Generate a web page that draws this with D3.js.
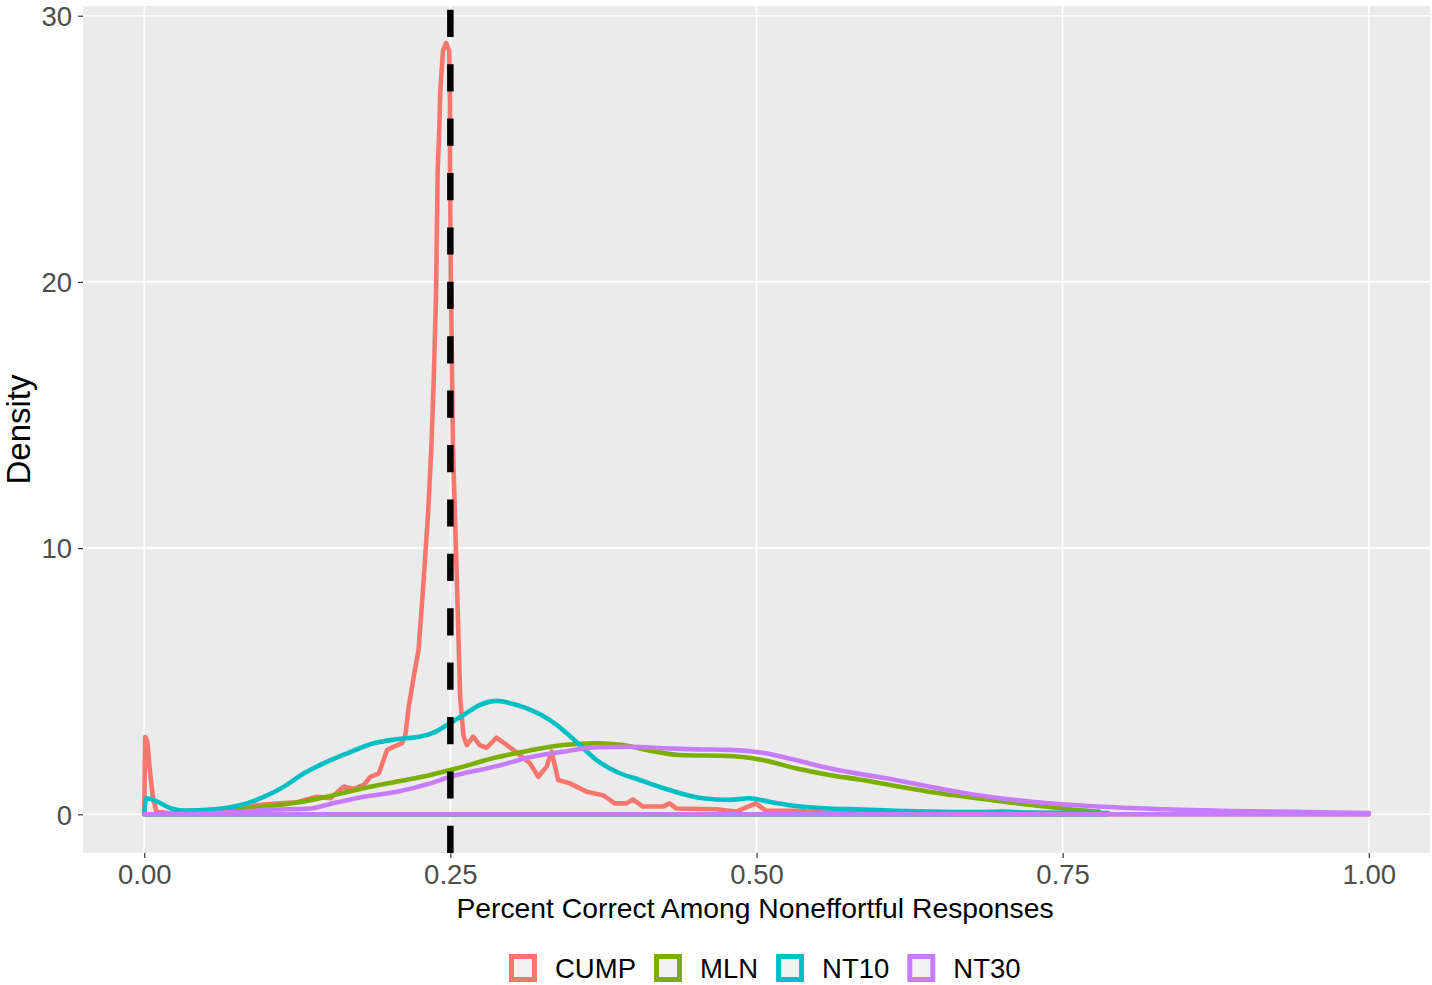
<!DOCTYPE html>
<html>
<head>
<meta charset="utf-8">
<script src="https://cdn.jsdelivr.net/npm/d3@7"></script>
<style>
  html, body { margin: 0; padding: 0; background: #ffffff; }
  svg { display: block; font-family: "Liberation Sans", Arial, sans-serif; }
</style>
</head>
<body>
<svg id="chart" width="1432" height="985"></svg>
<script>
// ---------------- data ----------------
const seriesNames = ["CUMP", "MLN", "NT10", "NT30"];
const seriesColors = ["#F8766D", "#7CAE00", "#00BFC4", "#C77CFF"];

const xTickValues = [0, 0.25, 0.5, 0.75, 1.0];
const xTickLabels = ["0.00", "0.25", "0.50", "0.75", "1.00"];
const yTickValues = [0, 10, 20, 30];
const yTickLabels = ["0", "10", "20", "30"];

const referenceLine = 0.25;

const cump = [[0,0],[0.0008,2.9],[0.0025,2.75],[0.0043,1.8],[0.007,0.66],[0.0098,0.12],[0.02,0.03],[0.05,0.04],[0.075,0.15],[0.0925,0.35],[0.111,0.41],[0.125,0.45],[0.141,0.66],[0.152,0.6],[0.163,1.04],[0.171,0.95],[0.1793,1.1],[0.1848,1.41],[0.1916,1.54],[0.1984,2.42],[0.2038,2.54],[0.2106,2.67],[0.2133,2.98],[0.216,4.04],[0.2201,5.17],[0.2241,6.2],[0.2282,8.8],[0.2318,11.3],[0.2345,13.8],[0.2364,16.3],[0.2383,19.5],[0.2396,24.1],[0.241,25.8],[0.2418,27.2],[0.244,28.7],[0.2465,28.97],[0.249,28.7],[0.2497,26.8],[0.2497,24.3],[0.2503,20.5],[0.2521,13.8],[0.2553,8.8],[0.258,4.4],[0.2607,2.95],[0.2635,2.6],[0.2686,2.92],[0.274,2.6],[0.2797,2.5],[0.2877,2.88],[0.3014,2.42],[0.315,1.92],[0.3218,1.41],[0.3286,1.79],[0.3327,2.35],[0.338,1.29],[0.3476,1.16],[0.3612,0.85],[0.3747,0.72],[0.3842,0.41],[0.3937,0.41],[0.3991,0.56],[0.4073,0.29],[0.4236,0.29],[0.429,0.41],[0.4345,0.22],[0.467,0.19],[0.4833,0.1],[0.4996,0.41],[0.5077,0.13],[0.532,0.13],[0.56,0.05],[0.6,0.02],[0.7,0.0],[1.0,0.0]];

const mln = [[0,0],[0.03,0.02],[0.05,0.05],[0.0727,0.14],[0.098,0.29],[0.1251,0.44],[0.152,0.69],[0.1793,0.98],[0.2065,1.23],[0.2336,1.48],[0.25,1.66],[0.2879,2.14],[0.315,2.4],[0.342,2.6],[0.3693,2.67],[0.391,2.6],[0.41,2.42],[0.4371,2.23],[0.4778,2.19],[0.505,2.04],[0.532,1.73],[0.5593,1.48],[0.5864,1.29],[0.6136,1.06],[0.6407,0.85],[0.6706,0.66],[0.7248,0.35],[0.7682,0.14],[0.78,0.1]];

const nt10 = [[0,0],[0.0016,0.6],[0.011,0.47],[0.022,0.22],[0.0328,0.14],[0.0572,0.19],[0.079,0.35],[0.098,0.66],[0.1142,1.04],[0.1305,1.54],[0.1468,1.92],[0.1658,2.29],[0.1875,2.67],[0.2065,2.82],[0.2255,2.92],[0.2363,3.07],[0.2472,3.35],[0.2607,3.73],[0.2743,4.11],[0.2879,4.26],[0.3014,4.14],[0.315,3.93],[0.3313,3.54],[0.342,3.17],[0.3557,2.6],[0.3693,2.04],[0.3855,1.6],[0.4046,1.29],[0.429,0.91],[0.4561,0.6],[0.4778,0.54],[0.4941,0.6],[0.5104,0.47],[0.532,0.31],[0.5593,0.22],[0.5864,0.18],[0.6135,0.13],[0.6407,0.1],[0.68,0.08],[0.7,0.1],[0.72,0.07],[0.787,0.05]];

const nt30 = [[0,0],[0.05,0.03],[0.075,0.08],[0.098,0.16],[0.136,0.22],[0.152,0.39],[0.1793,0.66],[0.2065,0.85],[0.2336,1.16],[0.25,1.41],[0.2879,1.81],[0.315,2.14],[0.342,2.35],[0.3693,2.52],[0.3964,2.54],[0.4236,2.48],[0.4507,2.44],[0.4778,2.42],[0.505,2.31],[0.532,2.04],[0.5593,1.73],[0.5864,1.5],[0.6136,1.29],[0.6407,1.04],[0.6706,0.79],[0.7248,0.47],[0.779,0.29],[0.8333,0.19],[0.8876,0.12],[0.942,0.09],[1.0,0.05]];

const seriesData = [cump, mln, nt10, nt30];

// ---------------- layout ----------------
const svg = d3.select("#chart");
const panel = { left: 83, right: 1430, top: 6, bottom: 853 };

const x = d3.scaleLinear().domain([-0.05, 1.05]).range([panel.left, panel.right]);
const y = d3.scaleLinear().domain([-1.454, 30.364]).range([panel.bottom, panel.top]);

// panel background
svg.append("rect")
  .attr("x", panel.left).attr("y", panel.top)
  .attr("width", panel.right - panel.left).attr("height", panel.bottom - panel.top)
  .attr("fill", "#EBEBEB");

// grid lines
const grid = svg.append("g");
grid.selectAll("line.gx").data(xTickValues).enter().append("line")
  .attr("x1", d => x(d)).attr("x2", d => x(d))
  .attr("y1", panel.top).attr("y2", panel.bottom)
  .attr("stroke", "#ffffff").attr("stroke-width", 1.6);
grid.selectAll("line.gy").data(yTickValues).enter().append("line")
  .attr("y1", d => y(d)).attr("y2", d => y(d))
  .attr("x1", panel.left).attr("x2", panel.right)
  .attr("stroke", "#ffffff").attr("stroke-width", 1.6);

// density outlines
const plot = svg.append("g");
seriesData.forEach((pts, i) => {
  const line = d3.line()
    .x(d => x(d[0])).y(d => y(d[1]))
    .curve(i === 0 ? d3.curveLinear : d3.curveMonotoneX);
  const first = pts[0], last = pts[pts.length - 1];
  const p = line(pts) + "L" + x(last[0]) + "," + y(0) + "L" + x(first[0]) + "," + y(0) + "Z";
  plot.append("path")
    .attr("d", p)
    .attr("fill", "none")
    .attr("stroke", seriesColors[i])
    .attr("stroke-width", 4.6)
    .attr("stroke-linejoin", "round")
    .attr("stroke-linecap", "butt");
});

// vertical dashed reference line (drawn bottom to top)
svg.append("line")
  .attr("x1", x(referenceLine)).attr("x2", x(referenceLine))
  .attr("y1", panel.bottom).attr("y2", panel.top)
  .attr("stroke", "#000000").attr("stroke-width", 6.5)
  .attr("stroke-dasharray", "27.2 27.2");

// axes
const xAxis = d3.axisBottom(x).tickValues(xTickValues)
  .tickFormat((d, i) => xTickLabels[i]).tickSize(5).tickSizeOuter(0).tickPadding(6);
const gx = svg.append("g").attr("transform", `translate(0,${panel.bottom})`).call(xAxis);
gx.select(".domain").remove();
gx.selectAll(".tick line").attr("stroke", "#333333").attr("stroke-width", 1.2);
gx.selectAll(".tick text").attr("fill", "#4D4D4D").attr("font-size", 27.5)
  .attr("font-family", "Liberation Sans, Arial, sans-serif").attr("dy", "0.71em");

const yAxis = d3.axisLeft(y).tickValues(yTickValues)
  .tickFormat((d, i) => yTickLabels[i]).tickSize(5).tickSizeOuter(0).tickPadding(6);
const gy = svg.append("g").attr("transform", `translate(${panel.left},0)`).call(yAxis);
gy.select(".domain").remove();
gy.selectAll(".tick line").attr("stroke", "#333333").attr("stroke-width", 1.2);
gy.selectAll(".tick text").attr("fill", "#4D4D4D").attr("font-size", 27.5)
  .attr("font-family", "Liberation Sans, Arial, sans-serif").attr("dy", "0.36em");

// axis titles
svg.append("text")
  .attr("x", 755).attr("y", 918)
  .attr("text-anchor", "middle").attr("font-size", 28.3).attr("fill", "#000")
  .text("Percent Correct Among Noneffortful Responses");

svg.append("text")
  .attr("transform", `translate(30,${(panel.top + panel.bottom) / 2}) rotate(-90)`)
  .attr("text-anchor", "middle").attr("font-size", 33).attr("fill", "#000")
  .text("Density");

// legend
const legend = svg.append("g");
let lx = 509;
const keySize = 28, keyY = 954;
seriesNames.forEach((name, i) => {
  legend.append("rect")
    .attr("x", lx).attr("y", keyY).attr("width", keySize).attr("height", keySize)
    .attr("fill", "#F2F2F2");
  legend.append("rect")
    .attr("x", lx + 2.5).attr("y", keyY + 2.5).attr("width", keySize - 5).attr("height", keySize - 5)
    .attr("fill", "none").attr("stroke", seriesColors[i]).attr("stroke-width", 5);
  const t = legend.append("text")
    .attr("x", lx + keySize + 18).attr("y", keyY + keySize / 2)
    .attr("dy", "0.36em").attr("font-size", 27.5).attr("fill", "#000")
    .text(name);
  lx = lx + keySize + 18 + t.node().getComputedTextLength() + 18;
});
</script>
</body>
</html>
